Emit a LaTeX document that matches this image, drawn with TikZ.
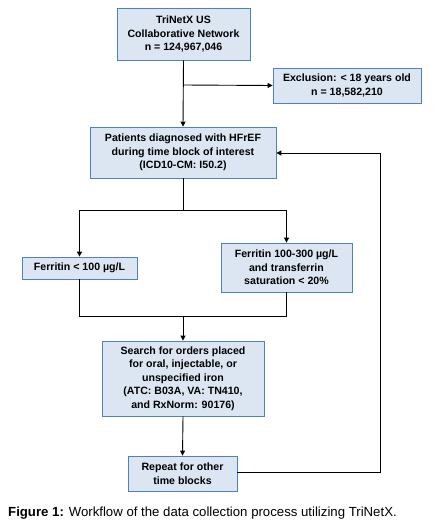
\documentclass[tikz,border=0pt]{standalone}
\usepackage{fontspec}
\setmainfont{Liberation Sans}
\usetikzlibrary{arrows.meta}
\definecolor{boxfill}{HTML}{DCE6F2}
\definecolor{boxline}{HTML}{4F81BD}
\begin{document}
\begin{tikzpicture}[x=1pt,y=-1pt,
  box/.style={draw=boxline, fill=boxfill, line width=0.8pt, align=center, inner sep=0pt,
    font=\fontsize{10.6}{13.6}\selectfont\bfseries},
  conn/.style={line width=0.9pt, black},
  arr/.style={conn, -{Triangle[length=5pt,width=5pt]}}]
\useasboundingbox (0,0) rectangle (440,530);
\node[box, minimum width=133pt, minimum height=52pt] (net) at (183.5,34) {TriNetX US\\Collaborative Network\\n = 124,967,046};
\node[box, minimum width=148pt, minimum height=35pt] (excl) at (347,85.5) {Exclusion: < 18 years old\\n = 18,582,210};
\node[box, minimum width=186pt, minimum height=51pt] (hf) at (183,152.5) {Patients diagnosed with HFrEF\\during time block of interest\\(ICD10-CM: I50.2)};
\node[box, minimum width=115pt, minimum height=22pt] (f1) at (79.5,268) {Ferritin < 100 µg/L};
\node[box, minimum width=131pt, minimum height=49pt] (f2) at (286.5,267.5) {Ferritin 100-300 µg/L\\and transferrin\\saturation < 20\%};
\node[box, minimum width=162pt, minimum height=75pt] (search) at (183,378.5) {Search for orders placed\\for oral, injectable, or\\unspecified iron\\(ATC: B03A, VA: TN410,\\and RxNorm: 90176)};
\node[box, minimum width=109pt, minimum height=35pt] (rep) at (182.5,473.5) {Repeat for other\\time blocks};
\coordinate (j1) at (183,85);
\coordinate (s1) at (183,210);
\coordinate (sl) at (79.5,210);
\coordinate (sr) at (286.5,210);
\coordinate (m1) at (183,316);
\coordinate (ml) at (79.5,316);
\coordinate (mr) at (286.5,316);
\coordinate (r1) at (380,472);
\coordinate (r2) at (380,153);
\draw[arr] (net.south) -- (hf.north);
\draw[arr] (j1) -- (excl.west);
\draw[conn] (hf.south) -- (s1);
\draw[arr] (sl) -- (f1.north);
\draw[arr] (sr) -- (f2.north);
\draw[conn] (sl) -- (sr);
\draw[conn] (f1.south) -- (ml) -- (mr) -- (f2.south);
\draw[arr] (m1) -- (search.north);
\draw[arr] (search.south) -- (rep.north);
\draw[conn] (rep.east |- r1) -- (r1) -- (r2);
\draw[arr] (r2) -- (hf.east |- r2);
\node[anchor=west, inner sep=0pt, font=\fontsize{13.2}{14}\selectfont] (cap) at (8,513) {\textbf{Figure 1:} Workflow of the data collection process utilizing TriNetX.};
\end{tikzpicture}
\end{document}
